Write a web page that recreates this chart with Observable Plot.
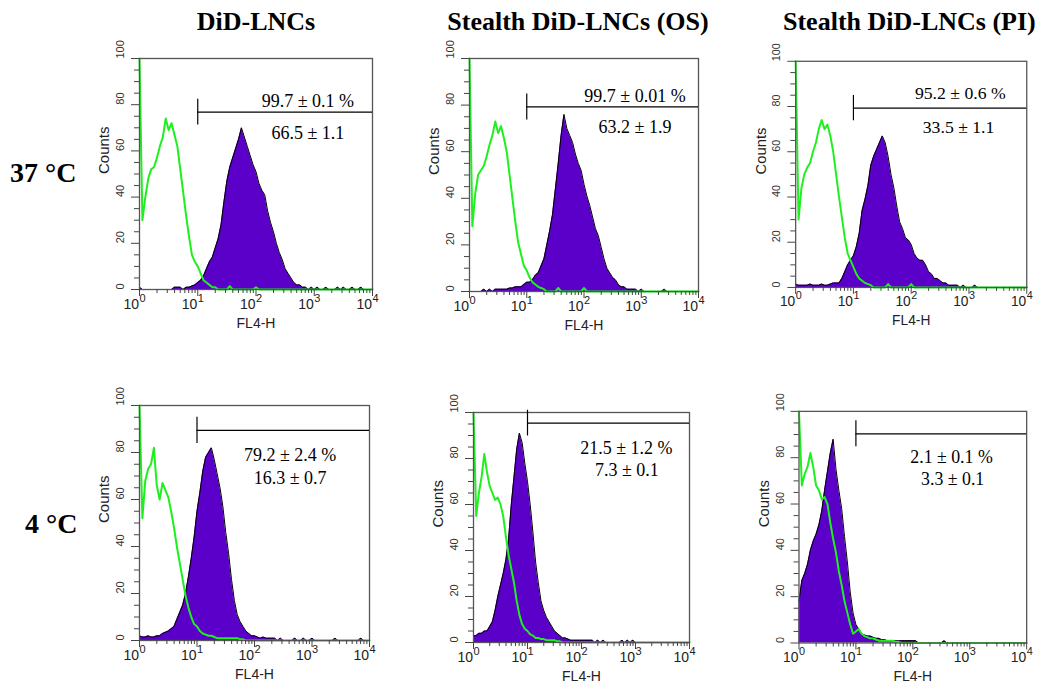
<!DOCTYPE html>
<html><head><meta charset="utf-8">
<script src="https://cdn.jsdelivr.net/npm/d3@7"></script>
<script src="https://cdn.jsdelivr.net/npm/@observablehq/plot@0.6"></script>
<style>
body{margin:0;background:#fff;}
#wrap{position:relative;width:1042px;height:688px;overflow:hidden;background:#fff;}
.title{position:absolute;font-family:"Liberation Serif","Times New Roman",serif;font-weight:bold;font-size:26px;line-height:26px;white-space:pre;color:#000;}
.panel{position:absolute;}
</style></head><body><div id="wrap"></div>
<script>
// ---------- text ----------
const columnTitles = ["DiD-LNCs", "Stealth DiD-LNCs (OS)", "Stealth DiD-LNCs (PI)"];
const rowTitles = ["37 °C", "4 °C"];
const xAxisLabel = "FL4-H";
const yAxisLabel = "Counts";
const xTickValues = [1, 10, 100, 1000, 10000];
const xTickExponents = ["0", "1", "2", "3", "4"];
const yTickValues = [0, 20, 40, 60, 80, 100];
const yMinorTickValues = [5, 10, 15, 25, 30, 35, 45, 50, 55, 65, 70, 75, 85, 90, 95];

// ---------- histograms: counts per FL4-H bin, bins 0.05 decade wide starting at 10^0 ----------
const binWidthDecades = 0.05;

const control37_DiD = [
 100,30,40,48,52,53,57,62,66,74,
 69,72,67,62,52,42,32,23,15,12,
 10,7,4,3,2,1,1,0,0,0,
 0,1.5,0,0,0,0,0,0,0,0,
 1,0,0,0,0,0,0,0,0,0,
 0,0,0,0,0,0,0,0,0,0,
 0,0,0,0,0,0,0,0,0,0,
 0,0,0,0,0,0,0,0,0,0,
 0];
const sample37_DiD = [
 1,0,0,0,0,0,0,0,0,0,
 0,0,1,1,1,0,1,1,1.5,2,
 3,4,6,9,12,14,18,22,28,38,
 47,53,57,61,65,70,66,62,58,54,
 51,46,43,41,34,29,25,20,16,13,
 9,7,5,3,2,2,1,1,0,1,
 0,1,0,0,1,0,0,0,1,0,
 1,0,0,1,0,0,1,0,0,0,
 0];
const control37_OS = [
 100,28,42,50,52,54,58,63,67,73,
 68,71,66,60,50,40,30,21,16,11,
 9,6,4,3,2,1.5,1,0,0,0,
 0,1.5,0,0,0,0,0,0,0,0,
 1.5,0,0,0,0,0,0,0,0,0,
 0,0,0,0,0,0,0,0,0,0,
 0,0,0,0,0,0,0,0,0,0,
 0,0,0,0,0,0,0,0,0,0,
 0];
const sample37_OS = [
 0,0,0,0,0,1,0,1,0,1,
 1,1,1,1,1.5,1.5,2,2,2,3,
 4,4,5,7,8,11,14,20,26,33,
 44,55,67,76,70,67,64,59,55,52,
 46,41,37,32,27,24,19,14,10,8,
 6,5,3,2,2,1,1,1,1,0,
 1,0,0,0,0,0,0,0,1,0,
 0,0,0,0,0,0,0,0,0,0,
 0];
const control37_PI = [
 100,30,44,50,53,55,60,64,70,74,
 70,72,67,60,50,40,31,22,15,12,
 9,6,4,3,2,1.5,1,0,0,0,
 0,0,1.5,0,0,0,0,0,0,0,
 1.5,0,0,0,0,0,0,0,0,0,
 0,0,0,0,0,0,0,0,0,0,
 0,0,0,0,0,0,0,0,0,0,
 0,0,0,0,0,0,0,0,0,0,
 0];
const sample37_PI = [
 1.5,1,1,1,1,1.5,1,1,1,1.5,
 1,1,1.5,2,2,2,4,7,10,12,
 14,18,24,34,39,45,54,58,61,64,
 67,64,58,50,44,36,29,26,22,21,
 19,15,13,12,12,10,7,6,4,4,
 3,2,2,1,1,1,1,0,1,0,
 0,0,1,0,0,0,0,0,0,0,
 0,0,0,0,0,0,0,0,0,0,
 0];
const control4_DiD = [
 100,52,68,73,75,82,66,60,67,64,
 61,55,48,40,33,26,19,14,10,7,
 6,4,3,2.5,2,2,1.5,1,1,1,
 1,1,1,1,1,0.5,0.5,0,0,0,
 0,0,0,0,0,0,0,0,0,0,
 0,0,0,0,0,0,0,0,0,0,
 0,0,0,0,0,0,0,0,0,0,
 0,0,0,0,0,0,0,0,0,0,
 0];
const sample4_DiD = [
 2,1.5,1.5,2,1.5,1.5,2,2,3,3.5,
 4,5,6,9,12,15,20,27,35,44,
 55,63,72,78,80,82,77,71,65,57,
 46,37,26,17,11,8,6,4,3,2,
 2,1.5,1,1.5,1,1,1,1,0,1,
 0,0,0,0,1,0,0,1,0,0,
 1,0,0,0,0,0,0,0,1,0,
 0,0,0,0,0,0,0,1,0,0,
 0];
const control4_OS = [
 100,55,65,72,82,74,68,65,62,63,
 60,55,46,38,32,26,18,12,8,6,
 5,3.5,3,2,2,1.5,1.5,1,1,1,
 1,0.5,0.5,0,0,0,0,0,0,0,
 0,0,0,0,0,0,0,0,0,0,
 0,0,0,0,0,0,0,0,0,0,
 0,0,0,0,0,0,0,0,0,0,
 0,0,0,0,0,0,0,0,0,0,
 0];
const sample4_OS = [
 3,3,4,4,5,5,7,9,14,20,
 25,30,36,45,60,72,84,91,87,78,
 70,60,48,35,26,18,14,11,9,7,
 5,4,3,2,2,1.5,1,1,1,1,
 1,1,1,1,1,0,1,0,1,0,
 0,0,0,0,0,1,0,1,0,1,
 0,0,0,0,0,0,0,0,0,0,
 0,0,0,0,0,0,0,0,0,0,
 0];
const control4_PI = [
 100,68,73,76,82,76,68,66,62,63,
 60,52,45,39,31,25,18,13,8,4,
 5,6,4,3,2.5,2,2,1.5,1,1,
 1,1,1,1,0.5,0.5,0,0,0,0,
 0,0,0,0,0,0,0,0,0,0,
 0,0,0,0,0,0,0,0,0,0,
 0,0,0,0,0,0,0,0,0,0,
 0,0,0,0,0,0,0,0,0,0,
 0];
const sample4_PI = [
 18,27,30,34,40,44,47,51,57,66,
 74,82,88,75,66,58,46,35,22,13,
 8,6,4,3.5,3,3,2.5,2,2,1.5,
 1.5,1,1,1,1,1,1,1,1,1,
 1,1,0,0,0,0,0,0,0,0,
 0,1,0,0,0,0,0,0,0,0,
 0,0,0,0,0,0,0,0,0,0,
 0,0,0,0,0,0,0,0,0,0,
 0];

// ---------- gate annotations ----------
const gateStart = 10;
const gateLevels = [76.8, 79.2, 79.3, 89.4, 95.4, 90.3];
const percentLabels = ["99.7 ± 0.1 %", "99.7 ± 0.01 %", "95.2 ± 0.6 %", "79.2 ± 2.4 %", "21.5 ± 1.2 %", "2.1 ± 0.1 %"];
const mfiLabels = ["66.5 ± 1.1", "63.2 ± 1.9", "33.5 ± 1.1", "16.3 ± 0.7", "7.3 ± 0.1", "3.3 ± 0.1"];

const controls = [control37_DiD, control37_OS, control37_PI, control4_DiD, control4_OS, control4_PI];
const samples = [sample37_DiD, sample37_OS, sample37_PI, sample4_DiD, sample4_OS, sample4_PI];

// ---------- layout (page pixels for plot frames; label anchors in data units) ----------
const layout = [
 {left:139, top:58,  w:233, h:231, pct:[2.89,81.6], mfi:[2.89,67.5]},
 {left:469, top:58,  w:229, h:233, pct:[2.89,84.0], mfi:[2.89,70.6]},
 {left:796, top:61,  w:235, h:230, pct:[2.85,86.0], mfi:[2.82,70.6]},
 {left:139, top:405, w:230, h:235, pct:[2.62,79.0], mfi:[2.62,69.2]},
 {left:473, top:412, w:216, h:230, pct:[2.83,84.5], mfi:[2.84,75.0]},
 {left:799, top:411, w:230, h:234, pct:[2.68,80.0], mfi:[2.70,70.7]}
];
const titleLayout = [{center:256, top:9}, {center:578, top:9}, {left:783, top:9}];
const rowLayout = [{left:10, top:159}, {left:25, top:510}];

const SANS = "'Liberation Sans', Arial, sans-serif";
const SERIF = "'Liberation Serif', 'Times New Roman', serif";
const PURPLE = "#5a00c8";
const GREEN = "#1ef01e";
const AXIS = "#444";

const xMinorTicks = [];
for (let d = 0; d < 4; d++) for (let m = 2; m <= 9; m++) xMinorTicks.push(m * 10 ** d);

const wrap = document.getElementById("wrap");

function toBins(arr) { return arr.map((v, i) => ({x: 10 ** (i * binWidthDecades), y: v})); }

layout.forEach((L, k) => {
  const mL = 50, mT = 12, mR = 16, mB = 48;
  const ctrl = toBins(controls[k]);
  const samp = toBins(samples[k]);
  const g = gateLevels[k];
  const svg = Plot.plot({
    width: L.w + mL + mR, height: L.h + mT + mB,
    marginLeft: mL, marginTop: mT, marginRight: mR, marginBottom: mB,
    x: {type: "log", domain: [1, 1e4], axis: null},
    y: {domain: [0, 100], axis: null},
    style: {background: "transparent", overflow: "visible", fontFamily: SANS},
    marks: [
      Plot.areaY(samp, {x: "x", y: "y", curve: "linear", fill: PURPLE}),
      Plot.lineY(samp, {x: "x", y: "y", curve: "linear", stroke: "#000", strokeWidth: 1}),
      Plot.lineY(ctrl, {x: "x", y: "y", curve: "linear", stroke: GREEN, strokeWidth: 2}),
      Plot.frame({stroke: "#555", strokeWidth: 1.3}),
      Plot.ruleY([g], {y: d => d, x1: gateStart, x2: 1e4, stroke: "#000", strokeWidth: 1.2}),
      Plot.ruleX([g], {x: gateStart, y1: d => d - 5.6, y2: d => d + 5.6, stroke: "#000", strokeWidth: 1.2}),
      Plot.text([percentLabels[k]], {x: 10 ** L.pct[0], y: L.pct[1], text: d => d, fontFamily: SERIF, fontSize: 18, fill: "#000"}),
      Plot.text([mfiLabels[k]], {x: 10 ** L.mfi[0], y: L.mfi[1], text: d => d, fontFamily: SERIF, fontSize: 18, fill: "#000"}),
      Plot.axisX({ticks: xTickValues, tickSize: 7, tickFormat: () => "", label: null, stroke: AXIS}),
      Plot.axisX({ticks: xMinorTicks, tickSize: 4, tickFormat: () => "", label: null, stroke: AXIS}),
      Plot.axisY({ticks: yTickValues, tickSize: 8, tickFormat: () => "", label: null, stroke: AXIS}),
      Plot.axisY({ticks: yMinorTickValues, tickSize: 5, tickFormat: () => "", label: null, stroke: AXIS}),
      Plot.text(xTickValues, {x: d => d, frameAnchor: "bottom", dy: 19, dx: -0.5, text: () => "10", textAnchor: "end", fontSize: 14, fill: "#222"}),
      Plot.text(xTickValues, {x: d => d, frameAnchor: "bottom", dy: 12, dx: 0, text: (d, i) => xTickExponents[i], textAnchor: "start", fontSize: 11, fill: "#222"}),
      Plot.text(yTickValues, {y: d => d, frameAnchor: "left", dx: -19, rotate: -90, text: d => String(d), fontSize: 11, fill: "#333"}),
      Plot.text([yAxisLabel], {frameAnchor: "left", dx: -35, rotate: -90, text: d => d, fontSize: 15, fill: "#222"}),
      Plot.text([xAxisLabel], {frameAnchor: "bottom", dy: 38, text: d => d, fontSize: 14, fill: "#222"})
    ]
  });
  const div = document.createElement("div");
  div.className = "panel";
  div.style.left = (L.left - mL) + "px";
  div.style.top = (L.top - mT) + "px";
  div.appendChild(svg);
  wrap.appendChild(div);
});

columnTitles.forEach((t, i) => {
  const T = titleLayout[i];
  const d = document.createElement("div");
  d.className = "title";
  d.textContent = t;
  d.style.top = T.top + "px";
  if (T.center !== undefined) { d.style.left = (T.center - 200) + "px"; d.style.width = "400px"; d.style.textAlign = "center"; }
  else d.style.left = T.left + "px";
  wrap.appendChild(d);
});
rowTitles.forEach((t, i) => {
  const R = rowLayout[i];
  const d = document.createElement("div");
  d.className = "title";
  d.style.fontSize = "28px"; d.style.lineHeight = "28px";
  d.textContent = t;
  d.style.left = R.left + "px"; d.style.top = R.top + "px";
  wrap.appendChild(d);
});
</script></body></html>
